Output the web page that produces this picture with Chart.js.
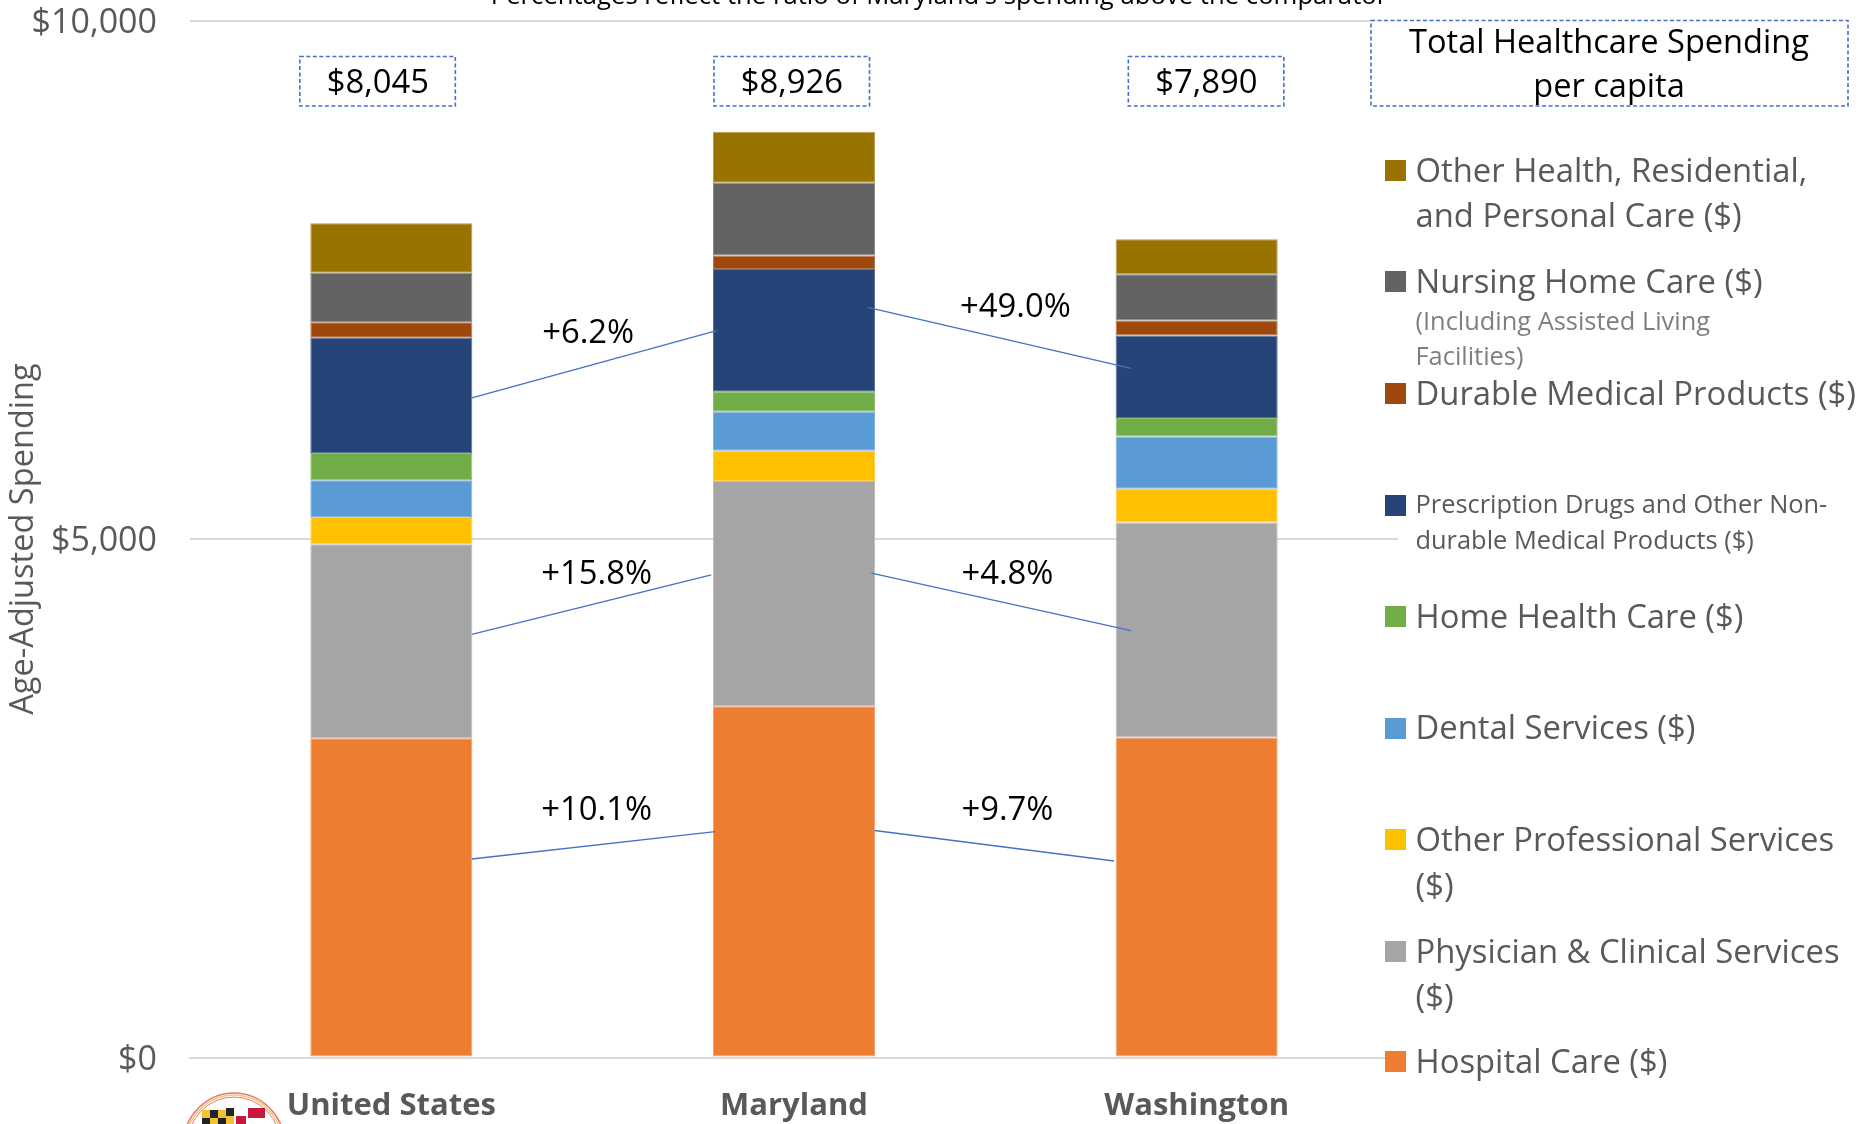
<!DOCTYPE html>
<html><head><meta charset="utf-8">
<style>html,body{margin:0;padding:0;background:#fff;overflow:hidden}canvas{display:block}</style>
<script src="https://cdn.jsdelivr.net/npm/chart.js@4"></script></head>
<body><canvas id="c" width="1868" height="1124"></canvas>
<script>
const categories = ['United States','Maryland','Washington'];
const hospital   = [3078,3387,3087];
const physician  = [1871,2172,2073];
const otherProf  = [263,292,324];
const dental     = [354,376,505];
const homeHealth = [263,193,179];
const rxDrugs    = [1112,1183,795];
const durable    = [149,131,145];
const nursing    = [478,701,444];
const otherHealth= [477,491,338];
const totals     = ['$8,045','$8,926','$7,890'];
const yTicks     = [0,5000,10000];
const seriesNames = ['Hospital Care ($)','Physician & Clinical Services ($)','Other Professional Services ($)','Dental Services ($)','Home Health Care ($)','Prescription Drugs and Other Non-durable Medical Products ($)','Durable Medical Products ($)','Nursing Home Care ($)','Other Health, Residential, and Personal Care ($)'];
const seriesColors = ['#ED7D31','#A5A5A5','#FFC000','#5B9BD5','#70AD47','#264478','#9E480E','#636363','#997300'];
const seriesEdges  = ['#F0A070','#BDBDBD','#FFD050','#80B2DF','#90BF70','#5A6F95','#B07A50','#8A8A8A','#B89A50'];
const seriesValues = [hospital,physician,otherProf,dental,homeHealth,rxDrugs,durable,nursing,otherHealth];
// connectors: [category position, value, category position, value]
const connectors = [[0.2,6360,0.808,7009],[1.183,7234,1.837,6646],[0.2,4081,0.7945,4653],[1.192,4672,1.837,4116],[0.2,1914,0.804,2179],[1.2,2189,1.795,1895]];
const pctLabels = ['+6.2%','+49.0%','+15.8%','+4.8%','+10.1%','+9.7%'];
const pctPositions = [[0.489,6977],[1.55,7228],[0.51,4655],[1.53,4655],[0.51,2377],[1.53,2377]];
const totalPositions = [-0.0335,0.995,2.024];

const FONT='"Open Sans"';
const GREY='#595959', BLUE='#4472C4';
const L=32.8, S=25.4;
const legendRows=[
 {c:'#997300',y:170,lines:[['Other Health, Residential,',172.5,L,GREY],['and Personal Care ($)',218,L,GREY]]},
 {c:'#636363',y:281,lines:[['Nursing Home Care ($)',283.5,L,GREY],['(Including Assisted Living',323,S,'#7F7F7F'],['Facilities)',358,S,'#7F7F7F']]},
 {c:'#9E480E',y:393,lines:[['Durable Medical Products ($)',395.5,L,GREY]]},
 {c:'#264478',y:505,lines:[['Prescription Drugs and Other Non-',506,S,GREY],['durable Medical Products ($)',542,S,GREY]]},
 {c:'#70AD47',y:616,lines:[['Home Health Care ($)',618.5,L,GREY]]},
 {c:'#5B9BD5',y:728,lines:[['Dental Services ($)',729.5,L,GREY]]},
 {c:'#FFC000',y:839,lines:[['Other Professional Services',841.5,L,GREY],['($)',887.5,L,GREY]]},
 {c:'#A5A5A5',y:951,lines:[['Physician & Clinical Services',953.5,L,GREY],['($)',998.5,L,GREY]]},
 {c:'#ED7D31',y:1061,lines:[['Hospital Care ($)',1063.5,L,GREY]]}
];
function dashedBox(ctx,x,y,w,h){ctx.save();ctx.strokeStyle=BLUE;ctx.lineWidth=1.6;ctx.setLineDash([4,2.5]);ctx.fillStyle='#fff';ctx.fillRect(x,y,w,h);ctx.strokeRect(x,y,w,h);ctx.restore();}
function drawSeal(ctx){
 ctx.save();
 ctx.beginPath();ctx.rect(0,1085,1868,39);ctx.clip();
 ctx.strokeStyle='#E37B7B';ctx.lineWidth=1.5;
 ctx.beginPath();ctx.ellipse(234,1146,51,53,0,0,Math.PI*2);ctx.stroke();
 ctx.strokeStyle='#F0C86E';ctx.lineWidth=1.5;
 ctx.beginPath();ctx.ellipse(234,1146,49,51,0,0,Math.PI*2);ctx.stroke();
 ctx.strokeStyle='#E37B7B';ctx.lineWidth=1;
 ctx.beginPath();ctx.ellipse(234,1146,47,49,0,0,Math.PI*2);ctx.stroke();
 const sq=[[202,1110,'#F2C230'],[210,1110,'#222'],[218,1110,'#F2C230'],[226,1108,'#222'],[202,1118,'#222'],[210,1118,'#F2C230'],[218,1118,'#222'],[226,1116,'#F2C230']];
 sq.forEach(s=>{ctx.fillStyle=s[2];ctx.fillRect(s[0],s[1],8,8);});
 ctx.fillStyle='#fff';ctx.fillRect(234,1110,30,14);
 ctx.fillStyle='#C8173A';ctx.fillRect(248,1108,17,10);ctx.fillRect(236,1116,10,8);
 ctx.restore();
}
const overlay={id:'overlay',
 beforeDraw(chart){
  const y=chart.scales.y;
  if(!y._shifted){y.getLabelItems(chart.chartArea).forEach(it=>{it.options.translation=[it.options.translation[0],it.options.translation[1]+2.5];});y._shifted=true;}
 },
 afterDatasetsDraw(chart){
 const ctx=chart.ctx,xS=chart.scales.x,yS=chart.scales.y;
 ctx.save();
 ctx.strokeStyle=BLUE;ctx.lineWidth=1.3;
 connectors.forEach(c=>{ctx.beginPath();ctx.moveTo(xS.getPixelForValue(c[0]),yS.getPixelForValue(c[1]));ctx.lineTo(xS.getPixelForValue(c[2]),yS.getPixelForValue(c[3]));ctx.stroke();});
 ctx.fillStyle='#000';ctx.textAlign='center';ctx.textBaseline='middle';
 ctx.font='32.8px '+FONT;
 pctLabels.forEach((t,i)=>ctx.fillText(t,xS.getPixelForValue(pctPositions[i][0]),yS.getPixelForValue(pctPositions[i][1])));
 // totals boxes
 totals.forEach((t,i)=>{const cx=xS.getPixelForValue(totalPositions[i]);dashedBox(ctx,cx-78,56.5,155.5,49.5);ctx.fillStyle='#000';ctx.fillText(t,cx,84);});
 // title
 ctx.font='25.7px '+FONT;ctx.fillText("Percentages reflect the ratio of Maryland's spending above the comparator",939,-3);
 // legend header
 dashedBox(ctx,1371,20.5,477,85.5);
 ctx.fillStyle='#000';ctx.font='32.6px '+FONT;
 ctx.fillText('Total Healthcare Spending',1609,44);ctx.fillText('per capita',1609,88);
 // legend
 ctx.textAlign='left';
 legendRows.forEach(r=>{ctx.fillStyle=r.c;ctx.fillRect(1385,r.y-10,21,21);
  r.lines.forEach(l=>{ctx.fillStyle=l[3];ctx.font=l[2]+'px '+FONT;ctx.fillText(l[0],1415.5,l[1]);});});
 drawSeal(ctx);
 ctx.restore();
}};
new Chart(document.getElementById('c'),{
 type:'bar',
 data:{labels:categories,datasets:seriesValues.map((v,i)=>({label:seriesNames[i],data:v,backgroundColor:seriesColors[i],borderColor:seriesEdges[i],borderWidth:1,borderSkipped:false,barPercentage:.4025,categoryPercentage:1}))},
 options:{responsive:false,animation:false,
  layout:{padding:{left:0,top:0,right:470,bottom:0}},
  plugins:{legend:{display:false},tooltip:{enabled:false},title:{display:false}},
  scales:{
   x:{stacked:true,grid:{display:false,drawTicks:false},border:{display:true,color:'#D9D9D9',width:2},
      ticks:{padding:30,maxRotation:0,color:GREY,font:{family:FONT,size:31,weight:'bold'}},
      afterFit(s){s.height=66.5;s.paddingLeft=0;s.paddingRight=0;}},
   y:{stacked:true,min:0,max:10000,afterBuildTicks(s){s.ticks=yTicks.map(v=>({value:v}));},
      grid:{color:'#D9D9D9',lineWidth:2,drawTicks:false},border:{display:false},
      ticks:{padding:33,color:GREY,font:{family:FONT,size:34},callback:v=>'$'+Number(v).toLocaleString('en-US')},
      title:{display:true,text:'Age-Adjusted Spending',color:GREY,font:{family:FONT,size:32.6},padding:{top:4,bottom:0}},
      afterFit(s){s.width=190;s.paddingTop=20.5;s.paddingBottom=0;}}
  }},
 plugins:[overlay]
});
</script></body></html>
